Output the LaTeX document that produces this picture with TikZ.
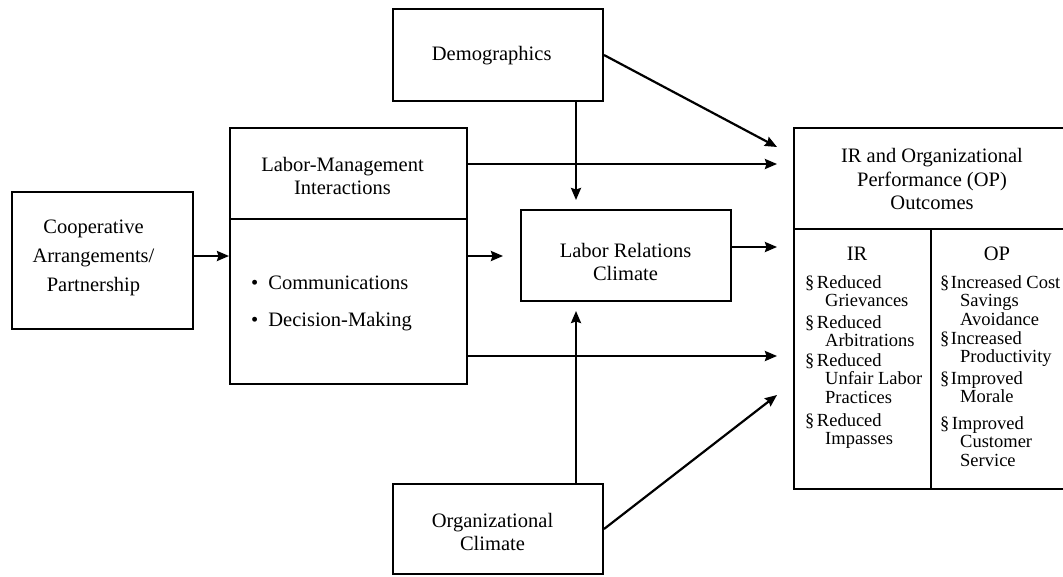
\documentclass[tikz,border=0pt]{standalone}
\usepackage{fontspec}
\setmainfont{Liberation Serif}
\usetikzlibrary{arrows.meta}

\newcommand{\mainfont}{\fontsize{20.5}{23.5}\selectfont}
\newcommand{\itemfont}{\fontsize{18.5}{18.5}\selectfont}

\begin{document}
\begin{tikzpicture}[x=1pt,y=-1pt,
  box/.style={draw, line width=2pt, inner sep=0pt},
  lbl/.style={inner sep=0pt, align=center, font=\mainfont},
  outitem/.style={anchor=base west, inner sep=0pt, font=\itemfont},
  arr/.style={line width=2.2pt, -{Stealth[length=12pt,width=10pt,inset=1.5pt]}},
  divider/.style={line width=2pt}]

\useasboundingbox (0,0) rectangle (1063,576);
\clip (0,0) rectangle (1063,576);

% boxes
\node[box, minimum width=181pt, minimum height=137pt] (coop) at (102.5,260.5) {};
\node[box, minimum width=237pt, minimum height=256pt] (lm) at (348.5,256) {};
\node[box, minimum width=210pt, minimum height=92pt] (demo) at (498,55) {};
\node[box, minimum width=210pt, minimum height=91pt] (lrc) at (626,255.5) {};
\node[box, minimum width=210pt, minimum height=90pt] (org) at (498,529) {};
\node[box, minimum width=276pt, minimum height=361pt] (out) at (932,308.5) {};

% dividers inside the boxes
\draw[divider] (lm.west |- 0,219) -- (lm.east |- 0,219);
\draw[divider] (out.west |- 0,229) -- (out.east |- 0,229);
\draw[divider] (931,229) -- (out.south -| 931,0);

% box texts
\node[lbl, font=\fontsize{20.5}{29}\selectfont] (coopT) at (93.5,258) {Cooperative\\Arrangements/\\Partnership};
\node[lbl] (lmT) at (342.5,176) {Labor-Management\\Interactions};
\node[anchor=base west, inner sep=0pt, font=\mainfont] (comm) at (251,289.5) {\textbullet\hspace{10pt}Communications};
\node[anchor=base west, inner sep=0pt, font=\mainfont] (dec) at (251,326.5) {\textbullet\hspace{10pt}Decision-Making};
\node[lbl] (demoT) at (491.7,56) {Demographics};
\node[lbl] (lrcT) at (625.5,262) {Labor Relations\\Climate};
\node[lbl] (orgT) at (492.5,532) {Organizational\\Climate};
\node[lbl] (outT) at (932,179) {IR and Organizational\\Performance (OP)\\Outcomes};
\node[lbl] (irH) at (857,254) {IR};
\node[lbl] (opH) at (997,254) {OP};

% IR column
\node[outitem] (ir1) at (805,288) {\begin{tabular}[t]{@{}l@{}}\S\hspace{2.5pt}Reduced\\\hspace*{20pt}Grievances\end{tabular}};
\node[outitem] (ir2) at (805,328) {\begin{tabular}[t]{@{}l@{}}\S\hspace{2.5pt}Reduced\\\hspace*{20pt}Arbitrations\end{tabular}};
\node[outitem] (ir3) at (805,366) {\begin{tabular}[t]{@{}l@{}}\S\hspace{2.5pt}Reduced\\\hspace*{20pt}Unfair Labor\\\hspace*{20pt}Practices\end{tabular}};
\node[outitem] (ir4) at (805,426) {\begin{tabular}[t]{@{}l@{}}\S\hspace{2.5pt}Reduced\\\hspace*{20pt}Impasses\end{tabular}};

% OP column
\node[outitem] (op1) at (940,288) {\begin{tabular}[t]{@{}l@{}}\S\hspace{1.5pt}Increased Cost\\\hspace*{20pt}Savings\\\hspace*{20pt}Avoidance\end{tabular}};
\node[outitem] (op2) at (940,344) {\begin{tabular}[t]{@{}l@{}}\S\hspace{1.5pt}Increased\\\hspace*{20pt}Productivity\end{tabular}};
\node[outitem] (op3) at (940,384) {\begin{tabular}[t]{@{}l@{}}\S\hspace{1.5pt}Improved\\\hspace*{20pt}Morale\end{tabular}};
\node[outitem] (op4) at (940,429) {\begin{tabular}[t]{@{}l@{}}\S\hspace{2.5pt}Improved\\\hspace*{20pt}Customer\\\hspace*{20pt}Service\end{tabular}};

% arrow end points in front of the outcomes box
\coordinate (tDemo) at (777,147);
\coordinate (tTop) at (777,164);
\coordinate (tLrc) at (777,247);
\coordinate (tBot) at (777,356);
\coordinate (tOrg) at (777,395);
\coordinate (tMid) at (503,256);

% connectors
\draw[arr] (coop.east |- 0,256) -- (lm.west |- 0,256);
\draw[arr] (lm.east |- 0,256) -- (tMid);
\draw[arr] (lm.east |- tTop) -- (tTop);
\draw[arr] (lm.east |- tBot) -- (tBot);
\draw[arr] (lrc.east |- tLrc) -- (tLrc);
\draw[arr, shorten >=9pt] (demo.south -| 576,0) -- (lrc.north -| 576,0);
\draw[arr, shorten >=9pt] (org.north -| 576,0) -- (lrc.south -| 576,0);
\draw[arr] (demo.east) -- (tDemo);
\draw[arr] (org.east) -- (tOrg);

\end{tikzpicture}
\end{document}
